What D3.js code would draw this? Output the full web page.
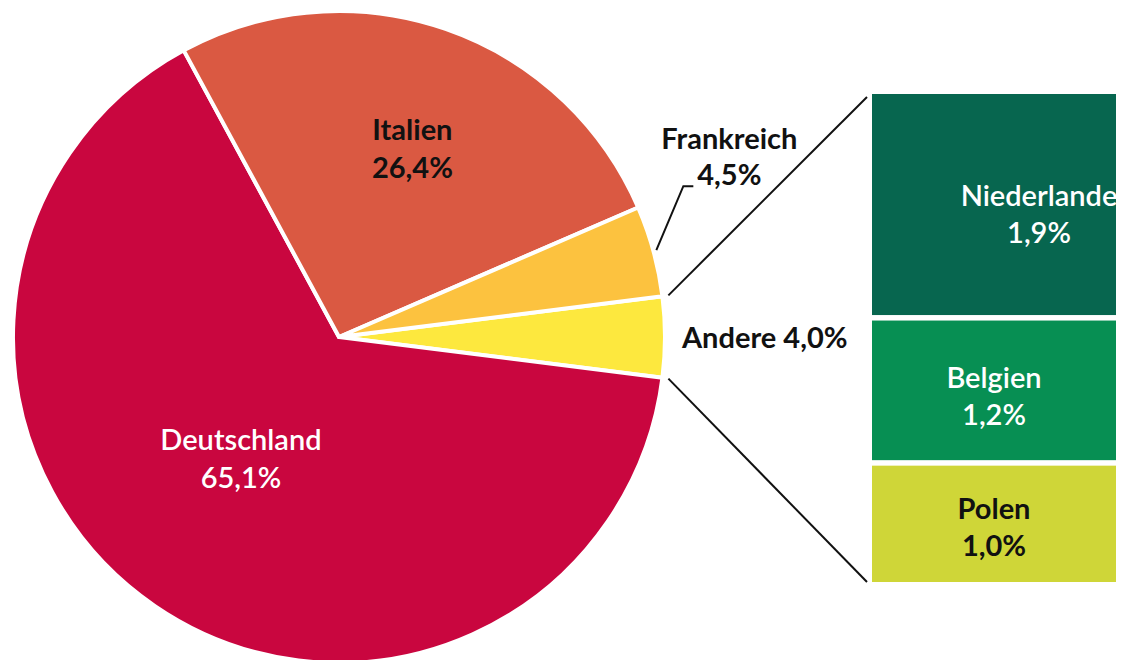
<!DOCTYPE html>
<html>
<head>
<meta charset="utf-8">
<script src="https://cdn.jsdelivr.net/npm/d3@7"></script>
<style>
  html, body { margin: 0; padding: 0; background: #fff; }
  svg { display: block; }
  text { font-family: Lato, "Noto Sans", sans-serif; }
</style>
</head>
<body>
<svg id="chart" width="1133" height="660"></svg>
<script>
// ---- Data ----
const categories = ["Andere", "Deutschland", "Italien", "Frankreich"];
const shares = [4.0, 65.1, 26.4, 4.5];
const shareLabels = ["4,0%", "65,1%", "26,4%", "4,5%"];
const pieColors = ["#FDE83E", "#C9063F", "#DA5942", "#FCC23F"];

const otherCategories = ["Niederlande", "Belgien", "Polen"];
const otherShares = [1.9, 1.2, 1.0];
const otherLabels = ["1,9%", "1,2%", "1,0%"];
const otherColors = ["#07664F", "#078F53", "#CFD638"];

// ---- Layout ----
const svg = d3.select("#chart");
const cx = 339, cy = 337, R = 326;

const andereSpan = shares[0] / d3.sum(shares) * 2 * Math.PI;
const a0 = Math.PI / 2 - andereSpan / 2;

const pie = d3.pie().sort(null).value(d => d.v)
  .startAngle(a0).endAngle(a0 + 2 * Math.PI);
const data = categories.map((c, i) => ({ c, v: shares[i], label: shareLabels[i], color: pieColors[i] }));
const arcs = pie(data);
const arc = d3.arc().innerRadius(0).outerRadius(R);

const g = svg.append("g").attr("transform", `translate(${cx},${cy})`);
g.selectAll("path").data(arcs).join("path")
  .attr("d", arc)
  .attr("fill", d => d.data.color)
  .attr("stroke", "#fff")
  .attr("stroke-width", 4)
  .attr("stroke-linejoin", "round");

const polar = (a, r) => [r * Math.sin(a), -r * Math.cos(a)];
const fs = 29;

// Inside labels
const inside = {
  "Deutschland": { r: 163, dx: -6, dy: -14, fill: "#fff", weight: 600 },
  "Italien": { r: 191, dx: 11, dy: -9, fill: "#111", weight: 700 }
};
arcs.forEach(d => {
  const cfg = inside[d.data.c];
  if (!cfg) return;
  const mid = (d.startAngle + d.endAngle) / 2;
  const [x, y] = polar(mid, cfg.r);
  const t = g.append("text")
    .attr("text-anchor", "middle")
    .attr("font-size", fs)
    .attr("font-weight", cfg.weight)
    .attr("fill", cfg.fill);
  t.append("tspan").attr("x", x + cfg.dx).attr("y", y + cfg.dy - 8).text(d.data.c);
  t.append("tspan").attr("x", x + cfg.dx).attr("y", y + cfg.dy + 30).text(d.data.label);
});

// Frankreich (outside with leader)
const fr = arcs[3];
{
  const mid = (fr.startAngle + fr.endAngle) / 2;
  const [x1, y1] = polar(mid, R + 3);
  const [x2, y2] = [x1 + 27, y1 - 64];
  g.append("path")
    .attr("d", `M${x1},${y1}L${x2},${y2}L${x2 + 10},${y2}`)
    .attr("fill", "none").attr("stroke", "#111").attr("stroke-width", 2);
  const t = g.append("text").attr("text-anchor", "middle")
    .attr("font-size", fs).attr("font-weight", 700).attr("fill", "#111");
  t.append("tspan").attr("x", x2 + 46).attr("y", y2 - 37).text(fr.data.c);
  t.append("tspan").attr("x", x2 + 46).attr("y", y2 - 1).text(fr.data.label);
}

// Andere label
const an = arcs[0];
{
  const mid = (an.startAngle + an.endAngle) / 2;
  const [x, y] = polar(mid, R + 17);
  g.append("text").attr("x", x).attr("y", y + 11)
    .attr("font-size", fs).attr("font-weight", 700).attr("fill", "#111")
    .text(an.data.c + " " + an.data.label);
}

// ---- Breakdown boxes ----
const bx0 = 872, bx1 = 1116, by0 = 94, by1 = 582, gap = 5.5;
const hScale = d3.scaleLinear()
  .domain([0, d3.sum(otherShares)])
  .range([0, (by1 - by0) - gap * (otherShares.length - 1)]);
let yAcc = by0;
const boxes = otherCategories.map((c, i) => {
  const h = hScale(otherShares[i]);
  const b = { c, v: otherShares[i], label: otherLabels[i], color: otherColors[i], y: yAcc, h };
  yAcc += h + gap;
  return b;
});

svg.append("g").selectAll("rect").data(boxes).join("rect")
  .attr("x", bx0).attr("y", d => d.y)
  .attr("width", bx1 - bx0).attr("height", d => d.h)
  .attr("fill", d => d.color);

const boxTextCfg = {
  "Niederlande": { dx: 45, dy: 9, fill: "#fff", weight: 600 },
  "Belgien": { dx: 0, dy: 6, fill: "#fff", weight: 600 },
  "Polen": { dx: 0, dy: 3, fill: "#111", weight: 700 }
};
boxes.forEach(b => {
  const cfg = boxTextCfg[b.c];
  const xm = (bx0 + bx1) / 2 + cfg.dx;
  const ym = b.y + b.h / 2 + cfg.dy;
  const t = svg.append("text").attr("text-anchor", "middle")
    .attr("font-size", fs).attr("font-weight", cfg.weight).attr("fill", cfg.fill);
  t.append("tspan").attr("x", xm).attr("y", ym - 8).text(b.c);
  t.append("tspan").attr("x", xm).attr("y", ym + 29).text(b.label);
});

// ---- Connector lines from "Andere" slice to boxes ----
const [ux, uy] = polar(an.startAngle, R + 6);
const [lx, ly] = polar(an.endAngle, R + 6);
svg.append("line")
  .attr("x1", cx + ux).attr("y1", cy + uy)
  .attr("x2", bx0 - 5).attr("y2", by0 + 3)
  .attr("stroke", "#111").attr("stroke-width", 2);
svg.append("line")
  .attr("x1", cx + lx).attr("y1", cy + ly)
  .attr("x2", bx0 - 5).attr("y2", by1)
  .attr("stroke", "#111").attr("stroke-width", 2);
</script>
</body>
</html>
